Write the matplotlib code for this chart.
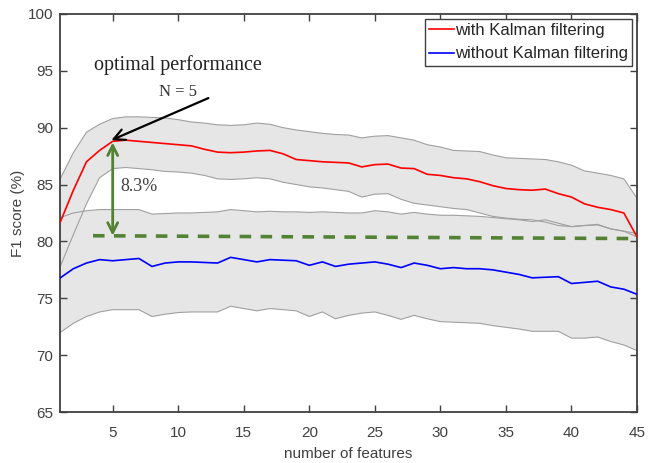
import matplotlib
matplotlib.use("Agg")
import matplotlib.pyplot as plt
import numpy as np

# ---- data ----
n_features = np.arange(1, 46)

kalman_mean = [81.7, 84.5, 87.0, 88.0, 88.8, 88.9, 88.8, 88.7, 88.6, 88.5,
               88.4, 88.1, 87.85, 87.8, 87.85, 87.95, 88.0, 87.7, 87.2, 87.1,
               87.0, 86.95, 86.9, 86.55, 86.75, 86.8, 86.45, 86.4, 85.9, 85.8,
               85.6, 85.5, 85.25, 84.9, 84.65, 84.55, 84.5, 84.6, 84.2, 83.9,
               83.3, 83.0, 82.8, 82.5, 80.4]
kalman_upper = [85.5, 87.8, 89.6, 90.3, 90.8, 90.95, 90.95, 90.9, 90.85, 90.7,
                90.5, 90.4, 90.25, 90.2, 90.25, 90.4, 90.3, 90.0, 89.8, 89.65,
                89.5, 89.4, 89.35, 89.1, 89.25, 89.3, 89.1, 88.9, 88.5, 88.3,
                88.0, 87.95, 87.9, 87.6, 87.35, 87.3, 87.25, 87.2, 87.0, 86.7,
                86.2, 86.0, 85.8, 85.5, 83.8]
kalman_lower = [77.8, 80.6, 83.3, 85.6, 86.4, 86.5, 86.4, 86.3, 86.15, 86.1,
                86.0, 85.8, 85.5, 85.45, 85.5, 85.6, 85.5, 85.2, 85.0, 84.8,
                84.7, 84.55, 84.4, 83.9, 84.15, 84.2, 83.7, 83.35, 83.2, 83.05,
                82.9, 82.8, 82.5, 82.2, 82.05, 81.95, 81.9, 81.7, 81.4, 81.3,
                81.4, 81.45, 81.1, 80.9, 80.4]

plain_mean = [76.8, 77.6, 78.1, 78.4, 78.3, 78.4, 78.5, 77.8, 78.1, 78.2,
              78.2, 78.15, 78.1, 78.6, 78.4, 78.2, 78.4, 78.35, 78.3, 77.9,
              78.2, 77.8, 78.0, 78.1, 78.2, 78.0, 77.7, 78.1, 77.9, 77.6,
              77.7, 77.6, 77.6, 77.5, 77.3, 77.1, 76.8, 76.85, 76.9, 76.3,
              76.4, 76.5, 76.0, 75.8, 75.35]
plain_upper = [82.1, 82.5, 82.7, 82.8, 82.8, 82.8, 82.8, 82.4, 82.45, 82.5,
               82.5, 82.55, 82.6, 82.8, 82.7, 82.6, 82.65, 82.6, 82.6, 82.55,
               82.6, 82.55, 82.5, 82.5, 82.7, 82.6, 82.4, 82.55, 82.4, 82.3,
               82.3, 82.25, 82.2, 82.1, 82.0, 81.9, 81.75, 81.9, 81.6, 81.3,
               81.4, 81.5, 81.1, 80.9, 80.7]
plain_lower = [72.0, 72.8, 73.4, 73.8, 74.0, 74.0, 74.0, 73.4, 73.6, 73.75,
               73.8, 73.8, 73.8, 74.3, 74.1, 73.9, 74.1, 74.0, 73.9, 73.4,
               73.8, 73.2, 73.5, 73.7, 73.8, 73.5, 73.15, 73.5, 73.2, 72.95,
               72.9, 72.85, 72.8, 72.6, 72.45, 72.3, 72.1, 72.1, 72.1, 71.5,
               71.5, 71.6, 71.2, 70.9, 70.4]

best_n = 5
best_score = 88.8
baseline = (3.5, 80.5, 45, 80.25)  # dashed reference line: x0, y0, x1, y1

x_ticks = [5, 10, 15, 20, 25, 30, 35, 40, 45]
y_ticks = [65, 70, 75, 80, 85, 90, 95, 100]

plt.rcParams["font.family"] = ["Liberation Sans", "DejaVu Sans"]
AX_COL = "#404040"
BAND_FILL = "#e6e6e6"
BAND_EDGE = "#a0a0a0"
GREEN = "#548235"

fig = plt.figure(figsize=(6.48, 4.63), dpi=100)
ax = fig.add_axes([0.093, 0.110, 0.890, 0.860])

for lo, hi in ((kalman_lower, kalman_upper), (plain_lower, plain_upper)):
    ax.fill_between(n_features, lo, hi, facecolor=BAND_FILL, edgecolor="none", zorder=1)
for edge in (kalman_lower, kalman_upper, plain_lower, plain_upper):
    ax.plot(n_features, edge, color=BAND_EDGE, lw=0.8, zorder=2)

ax.plot(n_features, kalman_mean, color="#ff0000", lw=1.2, zorder=4,
        label="with Kalman filtering")
ax.plot(n_features, plain_mean, color="#0000ff", lw=1.2, zorder=4,
        label="without Kalman filtering")

# annotations
ax.plot([baseline[0], baseline[2]], [baseline[1], baseline[3]], color=GREEN,
        lw=2.6, ls=(0, (3.2, 2.6)), zorder=3)
ax.annotate("", xy=(best_n, best_score - 0.1), xytext=(best_n, baseline[1]),
            arrowprops=dict(arrowstyle="<->", color=GREEN, lw=2,
                            mutation_scale=18, shrinkA=0, shrinkB=0), zorder=5)
ax.annotate("", xy=(best_n - 0.1, best_score + 0.1), xytext=(12.3, 92.6),
            arrowprops=dict(arrowstyle="->", color="black", lw=1.6,
                            mutation_scale=20, shrinkA=0, shrinkB=0), zorder=5)
serif = ["Liberation Serif", "DejaVu Serif"]
ax.text(3.6, 95.5, "optimal performance", family=serif, fontsize=14.5,
        color="#222222", va="center")
ax.text(8.5, 93.1, "N = 5", family=serif, fontsize=12, color="#333333", va="center")
ax.text(5.55, 84.8, "8.3%", family=serif, fontsize=13, color="#404040", va="center")

ax.set_xlim(1, 45)
ax.set_ylim(65, 100)
ax.set_xticks(x_ticks)
ax.set_yticks(y_ticks)
ax.tick_params(direction="in", top=True, right=True, length=5, width=1,
               colors=AX_COL, labelsize=11)
ax.tick_params(axis="x", pad=10)
ax.tick_params(axis="y", pad=5)
for sp in ax.spines.values():
    sp.set_color(AX_COL)
    sp.set_linewidth(1.3)
ax.set_xlabel("number of features", fontsize=11, color=AX_COL, labelpad=5)
ax.set_ylabel("F1 score (%)", fontsize=11, color=AX_COL, labelpad=2)

leg = ax.legend(loc="upper right", fontsize=12, handlelength=1.5,
                handletextpad=0.05, borderpad=0.25, labelspacing=0.5,
                fancybox=False, framealpha=1, borderaxespad=0.3)
leg.get_frame().set_edgecolor(AX_COL)
leg.get_frame().set_linewidth(1.0)
for txt in leg.get_texts():
    txt.set_color("#262626")

fig.savefig("out.png", dpi=100)
